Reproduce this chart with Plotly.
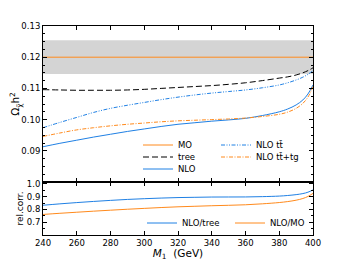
import plotly.graph_objects as go

# ---------------- data ----------------
m1 = [240, 250, 260, 270, 280, 290, 300, 310, 320, 330, 340, 350, 360, 370,
      380, 385, 390, 394, 397, 400]

omega_mo = [0.1200, 0.1200, 0.1200, 0.1200, 0.1200, 0.1200, 0.1200, 0.1200,
            0.1200, 0.1200, 0.1200, 0.1200, 0.1200, 0.1200, 0.1200, 0.1200,
            0.1200, 0.1200, 0.1200, 0.1200]

omega_tree = [0.1096, 0.1095, 0.1094, 0.1094, 0.1094, 0.1095, 0.1097, 0.1100,
              0.1103, 0.1106, 0.1109, 0.1113, 0.1118, 0.1125, 0.1133, 0.1137,
              0.1143, 0.1150, 0.1157, 0.1166]

omega_nlo = [0.0913, 0.0924, 0.0934, 0.0944, 0.0953, 0.0962, 0.0970, 0.0978,
             0.0985, 0.0990, 0.0995, 0.0999, 0.1004, 0.1013, 0.1025, 0.1034,
             0.1047, 0.1063, 0.1082, 0.1111]

omega_nlo_tt = [0.0974, 0.0991, 0.1007, 0.1023, 0.1036, 0.1046, 0.1055, 0.1064,
                0.1072, 0.1079, 0.1085, 0.1090, 0.1095, 0.1102, 0.1111, 0.1118,
                0.1127, 0.1136, 0.1145, 0.1157]

omega_nlo_tt_tg = [0.0946, 0.0957, 0.0967, 0.0974, 0.0980, 0.0985, 0.0989, 0.0993,
                   0.0996, 0.0998, 0.1000, 0.1002, 0.1005, 0.1010, 0.1017, 0.1024,
                   0.1036, 0.1052, 0.1072, 0.1106]

planck_band = [0.1146, 0.1254]

ratio_nlo_tree = [n / t for n, t in zip(omega_nlo, omega_tree)]
ratio_nlo_mo = [n / m for n, m in zip(omega_nlo, omega_mo)]

x_ticks = [240, 260, 280, 300, 320, 340, 360, 380, 400]
y1_ticks = [0.09, 0.10, 0.11, 0.12, 0.13]
y1_labels = ["0.09", "0.10", "0.11", "0.12", "0.13"]
y2_ticks = [0.7, 0.8, 0.9, 1.0]
y2_labels = ["0.7", "0.8", "0.9", "1.0"]

# ---------------- styling ----------------
BLUE = "#1f80e4"
ORANGE = "#ff8a1c"
FONT = "DejaVu Sans"

fig = go.Figure()

fig.add_trace(go.Scatter(x=m1, y=omega_mo, mode="lines", name="MO",
                         line=dict(color=ORANGE, width=1), legend="legend",
                         xaxis="x", yaxis="y"))
fig.add_trace(go.Scatter(x=m1, y=omega_tree, mode="lines", name="tree",
                         line=dict(color="black", width=1, dash="6px,3px"),
                         line_shape="spline", legend="legend2",
                         xaxis="x", yaxis="y"))
fig.add_trace(go.Scatter(x=m1, y=omega_nlo, mode="lines", name="NLO",
                         line=dict(color=BLUE, width=1), line_shape="spline",
                         legend="legend3", xaxis="x", yaxis="y"))
fig.add_trace(go.Scatter(x=m1, y=omega_nlo_tt, mode="lines",
                         name="NLO tt\u0304",
                         line=dict(color=BLUE, width=1,
                                   dash="4px,1.5px,1px,1.5px,1px,1.5px"),
                         line_shape="spline", legend="legend4",
                         xaxis="x", yaxis="y"))
fig.add_trace(go.Scatter(x=m1, y=omega_nlo_tt_tg, mode="lines",
                         name="NLO tt\u0304+tg",
                         line=dict(color=ORANGE, width=1,
                                   dash="4px,1.5px,1px,1.5px"),
                         line_shape="spline", legend="legend5",
                         xaxis="x", yaxis="y"))

fig.add_trace(go.Scatter(x=m1, y=ratio_nlo_tree, mode="lines", name="NLO/tree",
                         line=dict(color=BLUE, width=1), line_shape="spline",
                         legend="legend6", xaxis="x2", yaxis="y2"))
fig.add_trace(go.Scatter(x=m1, y=ratio_nlo_mo, mode="lines", name="NLO/MO",
                         line=dict(color=ORANGE, width=1), line_shape="spline",
                         legend="legend7", xaxis="x2", yaxis="y2"))

fig.add_shape(type="rect", xref="x domain", yref="y", x0=0, x1=1,
              y0=planck_band[0], y1=planck_band[1],
              fillcolor="#d4d4d4", line_width=0, layer="below")

split = 0.2536

axis_common = dict(showline=True, linecolor="black", linewidth=1,
                   mirror="ticks", ticks="inside", ticklen=4, tickwidth=1,
                   tickcolor="black", showgrid=False, zeroline=False,
                   automargin=False,
                   tickfont=dict(family=FONT, size=8.5, color="black"))

# the page body has an 8px default margin: the figure is sized so that
# its right/bottom edges meet the 348x261 window
fig.update_layout(
    width=340, height=253,
    margin=dict(l=35, r=35, t=18, b=26),
    paper_bgcolor="white", plot_bgcolor="white",
    showlegend=True,
    font=dict(family=FONT, size=9, color="black"),
    xaxis=dict(domain=[0, 1], anchor="y", range=[240, 400], tickvals=x_ticks,
               showticklabels=False, matches="x2", **axis_common),
    yaxis=dict(domain=[split, 1], anchor="x", range=[0.08, 0.13],
               tickvals=y1_ticks, ticktext=y1_labels,
               minor=dict(ticks="inside", ticklen=2, tick0=0.08, dtick=0.0025,
                          tickcolor="black"),
               title=dict(text="Ω<sub>χ\u0303</sub>h<sup>2</sup>",
                          font=dict(family=FONT, size=10.5), standoff=6),
               **axis_common),
    xaxis2=dict(domain=[0, 1], anchor="y2", range=[240, 400], tickvals=x_ticks,
                title=dict(text="<i>M</i><sub>1</sub>  (GeV)",
                           font=dict(family=FONT, size=10.5), standoff=2),
                **axis_common),
    yaxis2=dict(domain=[0, split], anchor="x2", range=[0.6, 1.015],
                tickvals=y2_ticks, ticktext=y2_labels,
                minor=dict(ticks="inside", ticklen=2, tick0=0.6, dtick=0.05,
                           tickcolor="black"),
                title=dict(text="rel.corr.", font=dict(family=FONT, size=9),
                           standoff=1),
                **axis_common),
)

leg_common = dict(bgcolor="rgba(0,0,0,0)", borderwidth=0,
                  font=dict(family=FONT, size=8.5, color="black"),
                  xanchor="left", yanchor="middle", itemwidth=30)

def ypx(p):
    return (235 - p) / 209.0

def xpx(p):
    return (p - 43) / 270.0

fig.update_layout(
    legend=dict(x=xpx(138), y=ypx(145), **leg_common),
    legend2=dict(x=xpx(138), y=ypx(157), **leg_common),
    legend3=dict(x=xpx(138), y=ypx(169), **leg_common),
    legend4=dict(x=xpx(216), y=ypx(145), **leg_common),
    legend5=dict(x=xpx(216), y=ypx(157), **leg_common),
    legend6=dict(x=xpx(142), y=ypx(223), **leg_common),
    legend7=dict(x=xpx(230), y=ypx(223), **leg_common),
)

fig.write_html("out.html")
